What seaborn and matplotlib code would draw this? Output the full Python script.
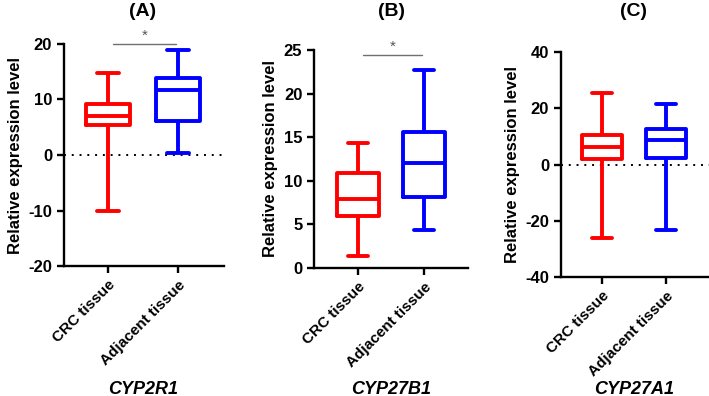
import seaborn as sns
import matplotlib.pyplot as plt
import pandas as pd

# five-number summaries: min, q1, median, q3, max
groups = ['CRC tissue', 'Adjacent tissue']
cyp2r1_crc = [-10.0, 5.4, 7.0, 9.2, 14.7]
cyp2r1_adj = [0.4, 6.2, 11.7, 13.8, 18.9]
cyp27b1_crc = [1.4, 6.0, 7.95, 10.9, 14.3]
cyp27b1_adj = [4.4, 8.1, 12.05, 15.6, 22.7]
cyp27a1_crc = [-26.0, 1.9, 6.2, 10.5, 25.6]
cyp27a1_adj = [-23.4, 2.5, 8.8, 12.5, 21.6]

genes = ['CYP2R1', 'CYP27B1', 'CYP27A1']
panels = ['(A)', '(B)', '(C)']
values = [(cyp2r1_crc, cyp2r1_adj), (cyp27b1_crc, cyp27b1_adj), (cyp27a1_crc, cyp27a1_adj)]
ylims = [(-20, 20), (0, 25), (-40, 40)]
yticks = [[-20, -10, 0, 10, 20], [0, 5, 10, 15, 20, 25], [-40, -20, 0, 20, 40]]
sig_level = [20, 24.4, None]   # height of the "*" bracket

sns.set_style('ticks')
plt.rcParams['font.family'] = ['Liberation Sans', 'DejaVu Sans']
plt.rcParams['font.weight'] = 'bold'
plt.rcParams['axes.unicode_minus'] = False
for key in ['text.color', 'axes.labelcolor', 'xtick.color', 'ytick.color', 'axes.edgecolor']:
    plt.rcParams[key] = 'black'

fig = plt.figure(figsize=(7.09, 3.96), dpi=100)
positions = [
    [0.090, 0.328, 0.226, 0.561],
    [0.443, 0.323, 0.217, 0.551],
    [0.791, 0.301, 0.209, 0.567],
]
xlims = [(-0.63, 1.66), (-0.67, 1.67), (-0.64, 1.67)]

for i in range(3):
    ax = fig.add_axes(positions[i])
    crc, adj = values[i]
    df = pd.DataFrame({
        'tissue': [groups[0]] * len(crc) + [groups[1]] * len(adj),
        'value': crc + adj,
    })
    sns.boxplot(data=df, x='tissue', y='value', hue='tissue', order=groups,
                palette=['#ff0000', '#0000ff'], fill=False, whis=(0, 100),
                width=0.63, linewidth=2.8, legend=False, ax=ax)
    ax.set_ylim(*ylims[i])
    ax.set_yticks(yticks[i])
    ax.set_xlim(*xlims[i])
    if ylims[i][0] < 0:
        ax.axhline(0, color='black', linestyle=(0, (1, 3)), linewidth=1.4, zorder=0)
    if sig_level[i] is not None:
        h = sig_level[i]
        ax.plot([0.08, 0.97], [h, h], color='#707070', linewidth=1.0, clip_on=False)
        ax.annotate('*', (0.52, h), xytext=(0, 1), textcoords='offset points',
                    ha='center', va='bottom', fontsize=11, fontweight='normal',
                    color='#555555', annotation_clip=False)
    sns.despine(ax=ax)
    for s in ['left', 'bottom']:
        ax.spines[s].set_linewidth(1.7)
    ax.tick_params(width=1.7, length=5, labelsize=12)
    ax.set_xticks([0, 1])
    ax.set_xticklabels(groups, rotation=45, ha='right', rotation_mode='anchor',
                       fontsize=11, fontweight='bold')
    for lab in ax.get_yticklabels():
        lab.set_fontweight('bold')
    ax.set_ylabel('Relative expression level', fontsize=12, fontweight='bold')
    ax.set_xlabel('')

    # gene name below and panel letter above, centred over the two boxes
    mid = ax.transData.transform((0.5, 0))[0] / fig.bbox.width
    fig.text(mid, 1 - 389 / 396, genes[i], ha='center', va='center',
             fontsize=13, fontweight='bold', style='italic')
    fig.text(mid, 1 - 11 / 396, panels[i], ha='center', va='center',
             fontsize=14, fontweight='bold')

fig.savefig('out.png', dpi=100)
